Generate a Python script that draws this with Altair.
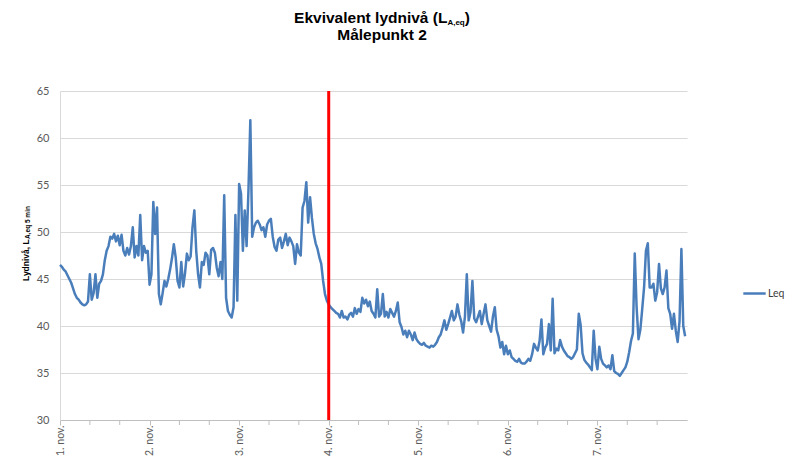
import altair as alt
import pandas as pd

# Leq values (dB), read every 30 minutes, 1. nov. 00:00 -> 7. nov. 23:30
day1 = [46.5, 46.3, 46.0, 45.8, 45.4, 45.0, 44.6, 44.0, 43.4, 43.0, 42.8, 42.5,
        42.3, 42.2, 42.3, 42.6, 45.5, 42.8, 43.5, 45.5, 43.0, 44.5, 44.8, 45.5,
        47.0, 48.0, 48.5, 49.5, 49.3, 49.8, 49.0, 49.6, 48.6, 49.7, 48.0, 47.5,
        48.3, 47.6, 48.5, 50.5, 47.3, 48.5, 47.5, 51.8, 47.0, 48.5, 47.8, 48.0]
day2 = [44.4, 45.5, 53.2, 49.8, 52.6, 43.4, 42.3, 43.5, 44.8, 44.2, 45.0, 46.0,
        47.2, 48.7, 47.3, 44.8, 44.1, 46.8, 44.2, 45.6, 47.7, 47.0, 47.4, 50.5,
        52.3, 48.0, 45.5, 44.1, 46.8, 46.5, 47.8, 47.5, 45.5, 48.1, 48.3, 47.8,
        46.2, 45.3, 46.8, 45.0, 53.9, 43.0, 41.6, 41.2, 40.9, 42.0, 51.8, 42.7]
day3 = [55.1, 54.1, 48.0, 52.3, 48.5, 54.5, 61.9, 49.5, 50.5, 51.0, 51.2, 50.8,
        50.2, 50.5, 49.5, 50.8, 51.2, 51.4, 49.5, 48.4, 48.0, 49.2, 49.4, 48.3,
        49.0, 49.8, 48.6, 49.4, 49.0, 48.5, 46.6, 48.7, 47.8, 47.5, 52.6, 53.3,
        55.3, 51.0, 53.7, 51.5, 49.8, 48.8, 48.2, 47.3, 46.6, 44.8, 43.4, 42.7]
day4 = [42.3, 42.0, 41.8, 41.6, 41.4, 41.3, 40.9, 41.6, 40.9, 41.0, 40.7, 41.2,
        41.4, 41.0, 41.9, 41.3, 41.8, 41.5, 43.0, 42.4, 42.8, 42.1, 42.6, 41.6,
        41.3, 40.9, 43.9, 41.0, 41.3, 43.4, 41.0, 41.5, 40.9, 41.8, 41.4, 41.0,
        41.6, 42.5, 40.4, 39.9, 39.1, 39.5, 38.8, 39.5, 39.1, 38.5, 39.3, 38.6]
day5 = [38.3, 38.1, 38.0, 38.2, 37.9, 37.8, 37.7, 37.9, 37.8, 38.0, 38.3, 38.8,
        39.1, 39.8, 40.6, 39.6, 40.2, 40.9, 41.6, 40.6, 41.0, 42.3, 41.2, 40.5,
        39.3, 41.0, 45.5, 40.6, 41.5, 44.8, 40.8, 40.4, 41.0, 41.6, 40.2, 41.3,
        42.3, 40.6, 40.0, 39.4, 41.0, 42.0, 39.6, 38.9, 37.7, 38.3, 37.0, 37.9]
day6 = [37.0, 37.4, 36.7, 36.5, 36.3, 36.2, 36.5, 36.1, 36.0, 36.0, 36.2, 36.5,
        36.3, 37.0, 38.1, 37.7, 37.4, 38.4, 40.7, 37.0, 37.7, 38.1, 40.2, 37.4,
        42.9, 37.1, 37.6, 37.4, 38.5, 37.8, 37.4, 37.1, 36.8, 36.7, 36.5, 36.7,
        37.1, 37.5, 41.3, 40.1, 37.1, 36.4, 36.1, 35.9, 35.6, 35.3, 39.5, 36.5]
day7 = [35.4, 37.8, 36.5, 36.0, 35.8, 35.6, 35.8, 35.4, 36.9, 35.2, 35.0, 34.9,
        34.7, 35.0, 35.3, 35.6, 36.2, 37.2, 38.4, 39.2, 47.7, 42.0, 38.6, 39.6,
        41.8, 44.1, 48.0, 48.8, 44.1, 44.1, 44.5, 42.7, 43.6, 46.6, 44.0, 43.4,
        44.1, 45.9, 41.9, 41.3, 39.7, 41.3, 39.5, 38.3, 40.5, 48.2, 40.0, 38.9]

series_name = "Leq"
marker_time = ["2013-11-04T00:00:00Z"]
y_ticks = [30, 35, 40, 45, 50, 55, 60, 65]
title_main = "Ekvivalent lydnivå (L"
title_sub = "A,eq"
title_close = ")"
title_line2 = "Målepunkt 2"
ytitle_main = "Lydnivå, L"
ytitle_sub = "A,eq 5 min"

leq = day1 + day2 + day3 + day4 + day5 + day6 + day7
start = pd.Timestamp("2013-11-01 00:00")
tid = [(start + pd.Timedelta(minutes=30 * i)).strftime("%Y-%m-%dT%H:%M:%SZ")
       for i in range(len(leq))]
df = pd.DataFrame({"tid": tid, "Leq": leq, "serie": [series_name] * len(leq)})

day_ticks = [alt.DateTime(year=2013, month=11, date=d, utc=True) for d in range(1, 8)]
minor_times = [(start + pd.Timedelta(hours=h)).strftime("%Y-%m-%dT%H:%M:%SZ")
               for h in range(8, 168, 8) if h % 24 != 0]
x_domain = [alt.DateTime(year=2013, month=11, date=1, utc=True),
            alt.DateTime(year=2013, month=11, date=8, utc=True)]

x_enc = alt.X(
    "tid:T",
    scale=alt.Scale(type="utc", domain=x_domain),
    axis=alt.Axis(
        values=day_ticks,
        labelExpr="utcFormat(datum.value, '%-d') + '. nov.'",
        labelAngle=270, labelAlign="right", labelBaseline="middle",
        tickSize=5, labelPadding=0, grid=False,
        domainColor="#bfbfbf", tickColor="#bfbfbf",
        labelFont="Lato", labelFontSize=10.5, labelColor="#595959",
        labelOverlap=False, labelFlush=False, title=None,
    ),
)

line = alt.Chart(df).mark_line(strokeWidth=2.5, strokeJoin="round").encode(
    x=x_enc,
    y=alt.Y(
        "Leq:Q",
        scale=alt.Scale(domain=[30, 65], nice=False, zero=False),
        axis=alt.Axis(
            values=y_ticks, ticks=False, labelPadding=11, grid=True,
            gridColor="#d9d9d9", domainColor="#d9d9d9",
            labelFont="Lato", labelFontSize=11, labelColor="#595959",
            title=None,
        ),
    ),
    color=alt.Color(
        "serie:N",
        scale=alt.Scale(domain=[series_name], range=["#4a7ebb"]),
        legend=alt.Legend(
            title=None, orient="none", legendX=682, legendY=190,
            symbolType="stroke", symbolStrokeWidth=2.5, symbolSize=500,
            labelFont="Lato", labelFontSize=10.5, labelColor="#404040",
            labelOffset=1, padding=0,
        ),
    ),
)

minor_ticks = alt.Chart(pd.DataFrame({"tid": minor_times})).mark_rule(
    color="#bfbfbf", strokeWidth=1
).encode(x="tid:T", y=alt.value(329), y2=alt.value(334))

rule = alt.Chart(pd.DataFrame({"tid": marker_time})).mark_rule(
    color="#ff0000", strokeWidth=3
).encode(x="tid:T")

one = pd.DataFrame({"a": [0]})


def txt(text, x, y, size, align="left", angle=0, baseline="alphabetic", font="Liberation Sans"):
    return alt.Chart(one).mark_text(
        text=text, font=font, fontSize=size, fontWeight="bold", color="#000000",
        align=align, baseline=baseline, angle=angle,
    ).encode(x=alt.value(x), y=alt.value(y))


fs1, fs_sub = 15.5, 8
w_main = 9.893 * fs1
w_sub = 2.167 * fs_sub
w_close = 0.333 * fs1
left = 322 - (w_main + w_sub + w_close) / 2

t1 = txt(title_main, left, -68.5, fs1)
t1s = txt(title_sub, left + w_main, -66, fs_sub)
t1c = txt(title_close, left + w_main + w_sub, -68.5, fs1)
t2 = txt(title_line2, 322, -51, fs1, align="center")

yfs = 8.5
yw_main = 4.946 * yfs
yt = txt(ytitle_main, -34, 190, yfs, angle=270, baseline="middle")
yts = txt(ytitle_sub, -32, 190 - yw_main, 6.5, angle=270, baseline="middle")

chart = alt.layer(line, minor_ticks, rule, t1, t1s, t1c, t2, yt, yts).properties(
    width=627, height=329,
    padding={"left": 52, "top": 83, "right": 99, "bottom": 36},
    autosize=alt.AutoSizeParams(type="none"),
    background="white",
).configure_view(stroke=None)

chart.save("out.html", embed_options={"renderer": "svg", "actions": False})
